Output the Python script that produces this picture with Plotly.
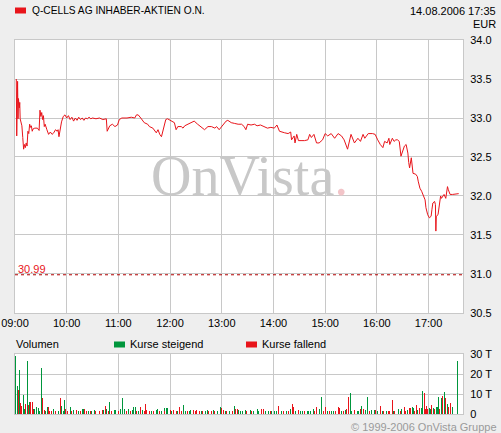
import plotly.graph_objects as go
import pandas as pd

DAY = "2006-08-14 "

# ---- price series (time of day, EUR) ----
price_time = [
 "09:01:30","09:02:00","09:03:00","09:03:30","09:04:00","09:05:00","09:05:30","09:06:00","09:07:00","09:08:00",
 "09:09:00","09:10:00","09:11:00","09:12:00","09:13:00","09:14:00","09:15:00","09:16:00","09:17:00","09:18:00",
 "09:19:00","09:20:00","09:21:00","09:23:00","09:26:00","09:28:00","09:29:00","09:30:00","09:31:00","09:32:00",
 "09:33:00","09:34:00","09:35:00","09:36:00","09:37:00","09:38:00","09:39:00","09:41:00","09:43:00","09:45:00",
 "09:47:00","09:49:00","09:50:00","09:51:00","09:53:00","09:54:00","09:56:00","09:58:00","10:00:00","10:02:00",
 "10:04:00","10:06:00","10:08:00","10:10:00","10:12:00","10:14:00","10:16:00","10:18:00","10:20:00","10:22:00",
 "10:24:00","10:26:00","10:28:00","10:30:00","10:34:00","10:38:00","10:42:00","10:46:00","10:47:00","10:50:00",
 "10:53:00","10:56:00","10:59:00","11:01:00","11:04:00","11:10:00","11:15:00","11:19:00","11:21:00","11:23:00",
 "11:26:00","11:30:00","11:34:00","11:36:00","11:40:00","11:44:00","11:46:00","11:48:00","11:50:00","11:53:00",
 "11:55:00","11:57:00","12:01:00","12:05:00","12:07:00","12:09:00","12:13:00","12:15:00","12:17:00","12:21:00",
 "12:24:00","12:28:00","12:32:00","12:36:00","12:40:00","12:44:00","12:48:00","12:52:00","12:54:00","12:57:00",
 "13:01:00","13:05:00","13:07:00","13:11:00","13:15:00","13:19:00","13:23:00","13:26:00","13:28:00","13:30:00",
 "13:34:00","13:38:00","13:41:00","13:45:00","13:49:00","13:53:00","13:57:00","14:01:00","14:04:00","14:07:00",
 "14:13:00","14:17:00","14:20:00","14:21:00","14:24:00","14:25:00","14:27:00","14:29:00","14:32:00","14:36:00",
 "14:40:00","14:42:00","14:44:00","14:47:00","14:50:00","14:53:00","14:57:00","15:00:00","15:03:00","15:07:00",
 "15:11:00","15:15:00","15:19:00","15:22:00","15:26:00","15:30:00","15:34:00","15:38:00","15:41:00","15:44:00",
 "15:46:00","15:50:00","15:55:00","15:58:00","16:01:00","16:04:00","16:07:00","16:09:00","16:12:00","16:14:00",
 "16:15:00","16:18:00","16:20:00","16:22:00","16:24:00","16:26:00","16:28:00","16:30:00","16:32:00","16:34:00",
 "16:36:00","16:37:00","16:38:00","16:40:00","16:41:00","16:42:00","16:45:00","16:47:00","16:48:00","16:50:00",
 "16:52:00","16:54:00","16:56:00","16:57:00","16:59:00","17:01:00","17:03:00","17:04:00","17:05:00","17:07:00",
 "17:08:00","17:08:30","17:09:00","17:11:00","17:13:00","17:14:00","17:15:00","17:17:00","17:18:00","17:20:00",
 "17:22:00","17:23:00","17:25:00","17:28:00","17:32:00","17:35:00",
]
price_eur = [
 33.50,32.77,33.47,32.99,33.25,33.13,33.20,32.99,32.93,32.90,
 32.75,32.60,32.66,32.62,32.68,32.64,32.83,32.80,32.92,32.88,
 32.90,32.83,32.86,32.87,32.87,32.84,33.10,33.02,33.07,32.98,
 33.03,32.89,32.92,32.87,32.85,32.82,32.79,32.82,32.79,32.81,
 32.85,32.83,32.85,32.76,32.90,32.95,33.02,33.04,33.00,33.03,
 32.98,33.01,32.96,33.00,32.97,33.01,32.98,33.00,32.97,33.00,
 32.99,33.01,32.99,33.00,32.99,33.00,32.98,32.99,32.83,32.90,
 32.92,32.89,32.91,32.98,33.00,33.00,33.01,33.00,33.04,33.04,
 33.00,32.94,32.92,32.89,32.87,32.81,32.85,32.79,32.76,32.89,
 32.98,32.99,32.96,32.94,32.85,32.89,32.89,32.87,32.90,32.92,
 32.93,32.96,32.92,32.88,32.85,32.89,32.89,32.87,32.89,32.85,
 32.91,32.96,32.97,32.94,32.93,32.92,32.92,32.89,32.85,32.92,
 32.91,32.92,32.90,32.91,32.89,32.87,32.88,32.87,32.91,32.83,
 32.81,32.80,32.82,32.72,32.77,32.68,32.79,32.71,32.71,32.71,
 32.72,32.79,32.75,32.79,32.68,32.68,32.72,32.80,32.77,32.80,
 32.74,32.80,32.77,32.72,32.60,32.79,32.68,32.74,32.70,32.79,
 32.74,32.80,32.80,32.79,32.72,32.66,32.62,32.70,32.68,32.74,
 32.66,32.74,32.70,32.72,32.72,32.70,32.51,32.57,32.64,32.66,
 32.55,32.43,32.36,32.49,32.36,32.29,32.28,32.25,32.19,32.10,
 32.06,32.00,31.95,31.85,31.76,31.72,31.74,31.83,31.91,31.93,
 31.89,31.55,31.74,31.76,31.89,32.00,31.97,32.00,32.02,31.97,
 32.12,32.08,32.02,32.02,32.03,32.03,
]

# ---- volume (minutes after 09:00, thousand shares, 1 = rising / 0 = falling) ----
vol_minute = [
 1,3,4,5,6,8,10,11,12,14,16,17,18,20,21,22,23,25,27,28,31,32,34,35,38,39,40,42,45,47,50,53,54,56,58,59,61,64,66,68,
 71,74,76,78,80,81,83,85,88,89,92,94,98,101,103,105,106,109,110,112,116,117,120,122,125,127,129,132,134,136,138,140,141,143,
 146,148,150,152,153,156,158,161,164,165,168,170,173,174,176,177,181,182,184,187,189,191,193,195,198,200,202,204,207,209,
 211,214,216,218,221,223,225,228,230,232,235,238,240,242,244,246,249,252,255,256,258,259,262,264,267,269,273,275,277,281,
 283,286,288,291,294,296,298,301,303,306,309,312,315,318,320,322,323,326,329,331,334,336,339,341,343,346,348,350,353,354,
 356,358,360,363,365,367,370,372,375,377,379,381,384,385,387,389,391,394,397,399,401,402,404,407,409,411,414,417,419,421,
 424,426,428,431,433,435,438,439,441,445,447,449,452,453,455,458,459,461,462,464,466,467,469,470,472,473,475,476,478,479,
 481,482,484,486,487,489,490,492,493,495,496,498,499,500,502,503,505,506,508,514,
]
vol_thousand = [
 29,14,12,22,5.4,4,9.7,2.5,5,26.6,4.6,5.8,5.8,5.8,2.5,2,2.5,3.6,2.8,1.7,23,8,2,1.3,3.6,3.6,1.3,1.3,2.5,1.3,1.7,8,4.2,1.7,7,2.5,1.3,3.3,1.3,2,
 2,1.3,1.3,2.5,2.5,2.5,1.7,1.3,1.7,1.3,2,1.3,1.3,2,2,4.2,2.5,1.3,6,1.3,2,2,1.3,2.5,8,2.5,1.3,2.5,1.3,2,3.3,3.6,1.3,1.3,
 3.3,2,1.3,5,2,1.3,1.3,1.3,2,2.5,1.3,1.3,2.8,1.3,2.8,2.8,2,1.3,2,1.3,1.3,3.3,1.7,4.5,1.3,1.3,1.3,2,2,1.3,
 2,1.3,1.3,1.3,1.3,2,1.3,1.3,2,1.3,1.3,3.6,3,2,1.3,1.3,1.3,1.3,4.2,2.5,2.5,2,1.3,1.7,2,1.3,2,1.3,1.3,2.5,
 1.7,2.5,2.5,1.3,1.3,1.3,1.3,1.3,1.3,4.2,1.3,1.3,1.3,1.3,2.5,5,3.3,1.3,2,1.3,1.3,1.3,1.3,1.3,1.7,2.5,1.3,3.6,2.5,2.5,
 8.7,1.3,3.6,1.3,1.7,1.3,1.3,1.3,3.6,3,1.3,1.3,2,2.5,8.3,10.5,1.3,2,1.3,1.3,2.5,4.2,2.5,2,8.3,1.3,2,2,2,1.3,
 4.2,1.3,1.3,1.3,1.3,1.3,7,1.3,1.3,2.5,1.3,2.5,3.6,1.7,2,3,3,3.3,3,1.7,4.5,2,3,1.3,3,11.5,10.3,2.5,4.2,2.5,
 3,2.5,4.6,3,2.5,3.6,3.6,8.7,2.5,8,9.2,5.8,11,8,5,3.6,3,5.4,3.6,26.6,
]
vol_rising = [
 1,1,0,1,0,0,1,1,0,1,0,1,0,0,1,0,1,1,1,1,1,0,0,1,1,0,0,0,1,0,1,0,1,1,1,0,0,1,0,1,
 0,1,0,1,1,0,0,1,0,1,1,0,0,0,1,0,1,0,1,0,1,1,0,1,1,1,0,1,0,1,1,1,0,1,
 0,1,0,0,0,0,1,0,1,1,0,1,1,0,1,1,0,1,0,0,1,0,0,1,1,0,1,1,0,0,
 0,0,1,0,1,1,0,0,1,0,1,1,0,0,1,0,1,0,1,0,0,1,1,1,1,0,1,0,1,1,
 1,0,0,1,1,0,1,1,1,0,1,0,1,0,1,0,0,1,0,1,1,0,1,1,1,1,0,0,1,1,
 1,0,0,1,0,1,1,0,0,0,1,0,1,0,0,1,1,0,1,1,0,1,0,1,1,0,1,1,0,1,
 0,1,0,1,0,0,0,1,0,1,0,1,0,0,1,0,0,1,1,0,0,1,0,1,1,1,0,0,0,0,
 1,1,0,1,0,1,1,1,0,1,0,1,1,0,1,0,1,0,1,1,
]

price_x = [pd.Timestamp(DAY + t) for t in price_time]
vol_x = [pd.Timestamp(DAY + "09:00") + pd.Timedelta(minutes=m) for m in vol_minute]
up_x = [x for x, r in zip(vol_x, vol_rising) if r == 1]
up_v = [v for v, r in zip(vol_thousand, vol_rising) if r == 1]
dn_x = [x for x, r in zip(vol_x, vol_rising) if r == 0]
dn_v = [v for v, r in zip(vol_thousand, vol_rising) if r == 0]

RED = "#e8141a"
GREEN = "#00963c"
GRID = "#c8c8c8"
BG = "#eeeeee"
FONT = "Liberation Sans, Arial, sans-serif"

fig = go.Figure()
fig.add_trace(go.Scatter(x=price_x, y=price_eur, mode="lines",
                         line=dict(color=RED, width=1), xaxis="x", yaxis="y",
                         hoverinfo="skip"))
fig.add_trace(go.Bar(x=up_x, y=up_v, marker=dict(color=GREEN, line=dict(width=0)),
                     width=70000, xaxis="x2", yaxis="y2"))
fig.add_trace(go.Bar(x=dn_x, y=dn_v, marker=dict(color=RED, line=dict(width=0)),
                     width=70000, xaxis="x2", yaxis="y2"))

xr = [pd.Timestamp(DAY + "09:00"), pd.Timestamp(DAY + "17:40")]
hour_ticks = [pd.Timestamp(DAY + "%02d:00" % h) for h in range(9, 18)]

axis_common = dict(showgrid=True, gridcolor=GRID, gridwidth=1, showline=True,
                   linecolor=GRID, linewidth=1, mirror=True, zeroline=False,
                   automargin=False,
                   ticks="", tickfont=dict(family=FONT, size=11, color="#000000"))

fig.update_layout(
    width=501, height=433,
    margin=dict(l=15, r=38, t=40, b=19, autoexpand=False),
    paper_bgcolor=BG, plot_bgcolor="#ffffff",
    showlegend=False, barmode="overlay", bargap=0,
    font=dict(family=FONT, size=11, color="#000000"),
    xaxis=dict(axis_common, type="date", range=xr, tickvals=hour_ticks,
               tickformat="%H:%M", anchor="y"),
    yaxis=dict(axis_common, domain=[0.2701, 1.0], range=[30.5, 34.0], side="right",
               tickvals=[30.5, 31.0, 31.5, 32.0, 32.5, 33.0, 33.5, 34.0],
               tickformat=".1f", anchor="x", ticklabelstandoff=4),
    xaxis2=dict(axis_common, type="date", range=xr, tickvals=hour_ticks,
                showticklabels=False, anchor="y2"),
    yaxis2=dict(axis_common, domain=[0.0, 0.1604], range=[0, 30], side="right",
                tickvals=[0, 10, 20, 30], ticktext=["0", "10 T", "20 T", "30 T"],
                anchor="x2", ticklabelstandoff=4),
)

def px_x(p):
    return (p - 15) / 448.0

def px_y(p):
    return (414 - p) / 374.0

ann = []
ann.append(dict(text="Q-CELLS AG INHABER-AKTIEN O.N.", x=px_x(30), y=px_y(10.5),
                xanchor="left", yanchor="middle", font=dict(size=10.2)))
ann.append(dict(text="14.08.2006 17:35", x=px_x(498), y=px_y(10.5),
                xanchor="right", yanchor="middle"))
ann.append(dict(text="EUR", x=px_x(498), y=px_y(24.5), xanchor="right", yanchor="middle"))
ann.append(dict(text="Volumen", x=px_x(14), y=px_y(344), xanchor="left", yanchor="middle"))
ann.append(dict(text="Kurse steigend", x=px_x(127.5), y=px_y(344), xanchor="left", yanchor="middle"))
ann.append(dict(text="Kurse fallend", x=px_x(259.5), y=px_y(344), xanchor="left", yanchor="middle"))
ann.append(dict(text="© 1999-2006 OnVista Gruppe", x=px_x(499), y=px_y(427),
                xanchor="right", yanchor="middle", font=dict(color="#9a9a9a")))
ann.append(dict(text="OnVista<span style='color:#f2c4c8'>.</span>", x=px_x(149), y=px_y(176),
                xanchor="left", yanchor="middle",
                font=dict(family="Liberation Serif, Times New Roman, serif", size=56, color="#c8c8c8")))
ann.append(dict(text="30.99", xref="paper", yref="y", x=px_x(16), y=30.99,
                xanchor="left", yanchor="bottom", yshift=-2, font=dict(color=RED)))
for a in ann:
    a.setdefault("xref", "paper")
    a.setdefault("yref", "paper")
    a["showarrow"] = False
fig.update_layout(annotations=ann)

shapes = [
    dict(type="rect", xref="paper", yref="paper", x0=px_x(15), x1=px_x(26),
         y0=px_y(13.5), y1=px_y(7.5), fillcolor=RED, line=dict(width=0)),
    dict(type="rect", xref="paper", yref="paper", x0=px_x(114), x1=px_x(125),
         y0=px_y(347.5), y1=px_y(341.5), fillcolor=GREEN, line=dict(width=0)),
    dict(type="rect", xref="paper", yref="paper", x0=px_x(246), x1=px_x(257),
         y0=px_y(347.5), y1=px_y(341.5), fillcolor=RED, line=dict(width=0)),
    dict(type="line", xref="paper", yref="y", x0=0, x1=1, y0=30.99, y1=30.99,
         line=dict(color="#b00000", width=1, dash="dot")),
]
fig.update_layout(shapes=shapes)

fig.write_html("out.html", config={"displayModeBar": False, "staticPlot": True},
               post_script="document.body.style.margin='0';document.body.style.padding='0';"
                           "document.body.style.overflow='hidden';")
